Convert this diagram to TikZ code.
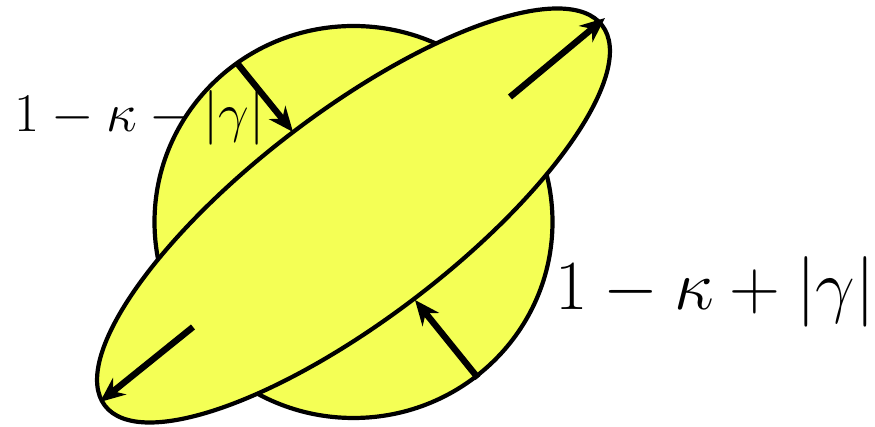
\documentclass[tikz,border=0pt]{standalone}
\usetikzlibrary{arrows.meta}
\definecolor{lensyellow}{RGB}{244,255,85}
\tikzset{
  shapeline/.style={draw=black, line width=2.1pt, fill=lensyellow},
  shearrow/.style={line width=3.2pt, -{Stealth[length=12.5pt,width=10.5pt,inset=4pt]}},
  lbl/.style={inner sep=0pt, anchor=base west, font=\huge}
}
\begin{document}
\begin{tikzpicture}[x=0.5pt,y=0.5pt]
\useasboundingbox (0,0) rectangle (875,427);
% source circle
\path[shapeline] (353.5,205) ellipse [x radius=199, y radius=196];
% image ellipse
\path[shapeline] (353.5,211.5) ellipse [x radius=313, y radius=103, rotate=37.4];
% arrow coordinates
\coordinate (ma1s) at (510,330);
\coordinate (ma1e) at (605,409);
\coordinate (ma2s) at (193,100);
\coordinate (ma2e) at (100,25);
\coordinate (mi1s) at (237,364);
\coordinate (mi1e) at (293,295);
\coordinate (mi2s) at (478,49);
\coordinate (mi2e) at (415,127);
\draw[shearrow] (ma1s) -- (ma1e);
\draw[shearrow] (ma2s) -- (ma2e);
\draw[shearrow] (mi1s) -- (mi1e);
\draw[shearrow] (mi2s) -- (mi2e);
% labels
\node[lbl, scale=1.316] (lminus) at (14,295) {$1-\kappa-|\gamma|$};
\node[lbl, scale=1.70] (lplus) at (555,117) {$1-\kappa+|\gamma|$};
\end{tikzpicture}
\end{document}
